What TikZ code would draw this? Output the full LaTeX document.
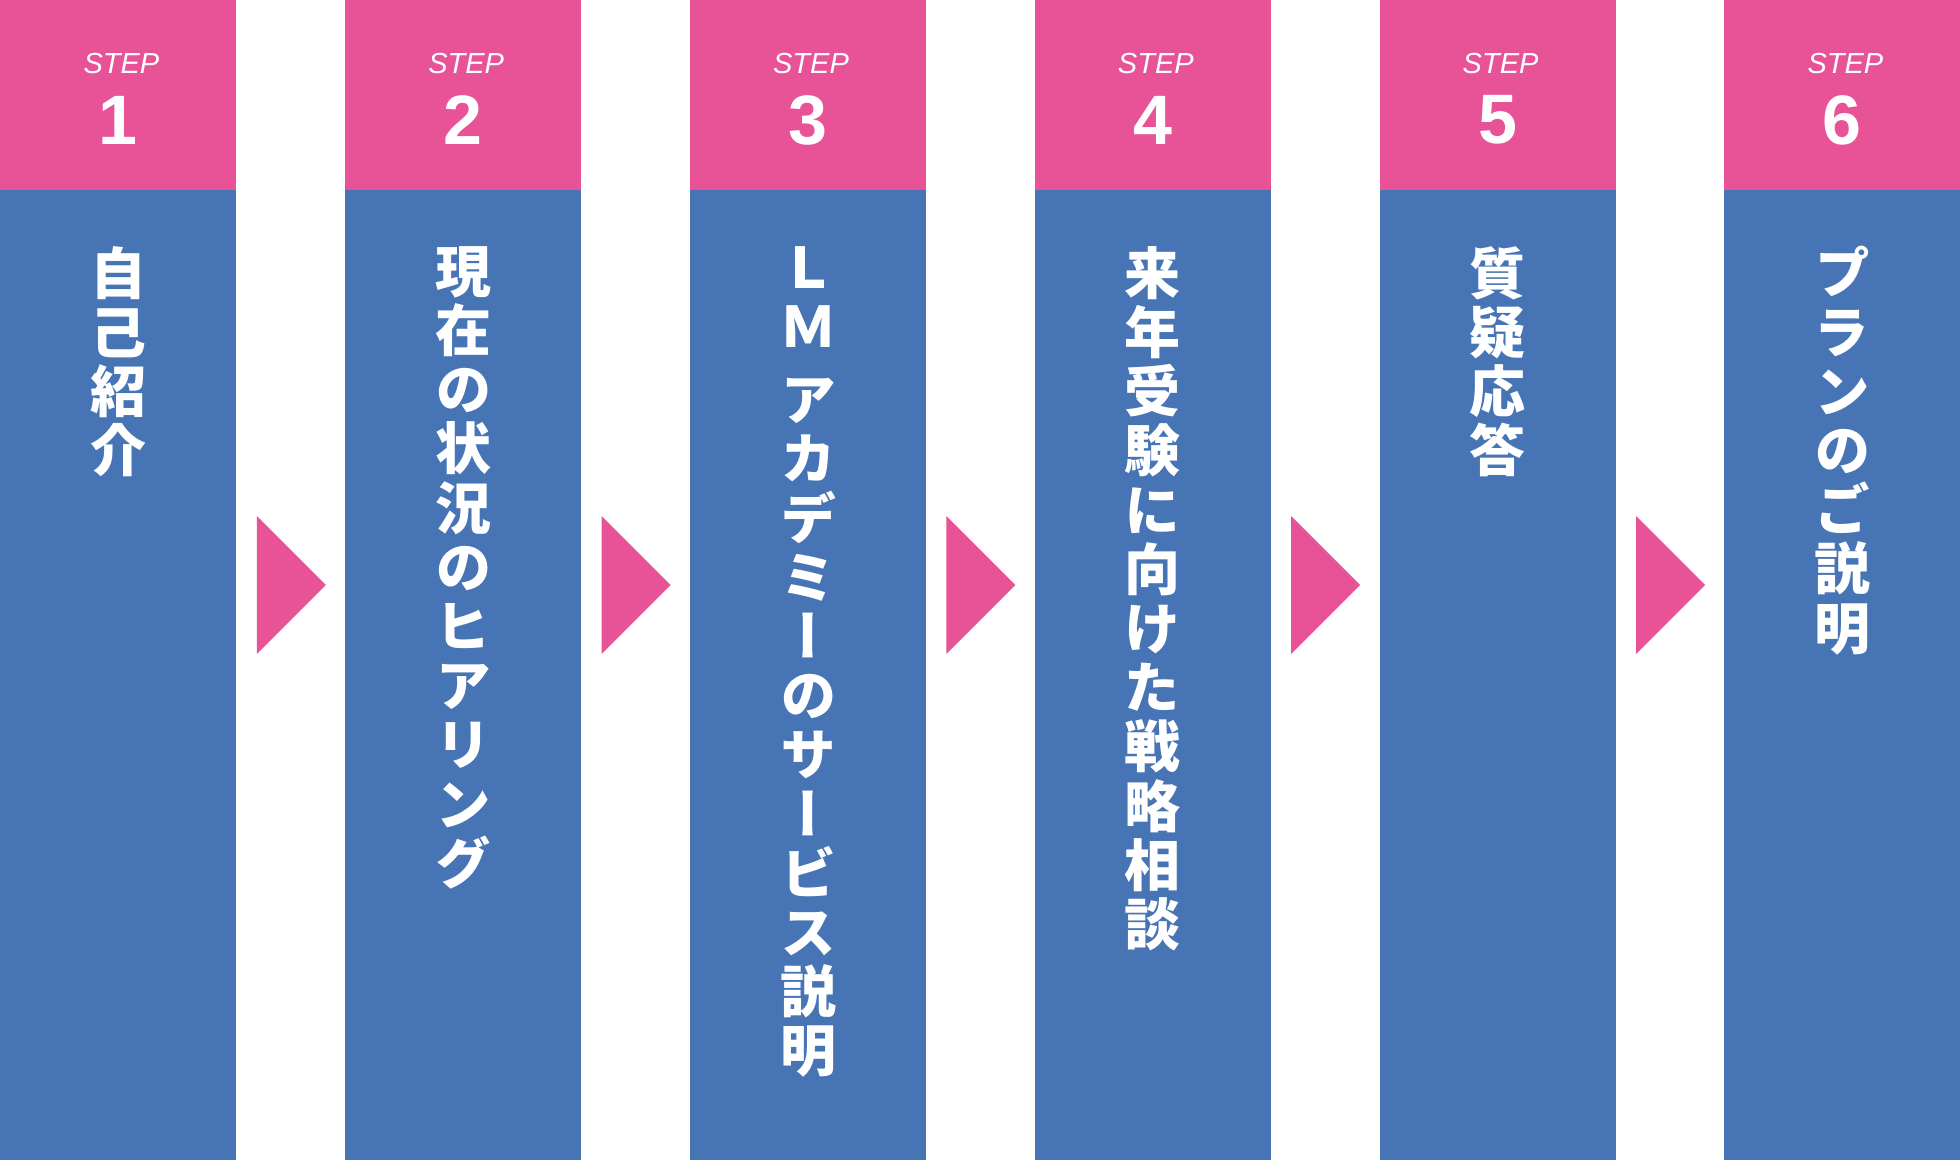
\documentclass[tikz,border=0pt]{standalone}
\usepackage{fontspec}
\setmainfont{Liberation Sans}
\newfontfamily\jpfont[RawFeature={+vert}]{Noto Sans CJK JP}
\usetikzlibrary{calc, positioning}

\definecolor{stepPink}{HTML}{E85397}
\definecolor{stepBlue}{HTML}{4674B5}

\begin{document}
\begin{tikzpicture}[x=0.5pt, y=-0.5pt,
  hdbox/.style={fill=stepPink, minimum width=118pt, minimum height=95pt, inner sep=0, anchor=north west},
  bdbox/.style={fill=stepBlue, minimum width=118pt, minimum height=485pt, inner sep=0, anchor=north west},
  steplabel/.style={text=white, inner sep=0, font=\itshape\fontsize{14.5}{17}\selectfont},
  stepnum/.style={text=white, inner sep=0, font=\bfseries\fontsize{35}{40}\selectfont},
  vtext/.style={text=white, inner sep=0, anchor=north, align=center, font=\jpfont\bfseries\fontsize{28}{29.6}\selectfont}
 ]
 \useasboundingbox (0,0) rectangle (1960,1160);
 
 \foreach \i/\txt in {1/{自\\己\\紹\\介},
   2/{現\\在\\の\\状\\況\\の\\ヒ\\ア\\リ\\ン\\グ},
   3/{Ｌ\\Ｍ\\[7pt]ア\\カ\\デ\\ミ\\ー\\の\\サ\\ー\\ビ\\ス\\説\\明},
   4/{来\\年\\受\\験\\に\\向\\け\\た\\戦\\略\\相\\談},
   5/{質\\疑\\応\\答},
   6/{プ\\ラ\\ン\\の\\ご\\説\\明}} {
  \pgfmathsetmacro\x{344.8*(\i-1)}
  \node [hdbox] (hd\i) at (\x,0) {};
  \node [bdbox] (bd\i) at (\x,190) {};
  \node [steplabel] (st\i) at ($(hd\i.north)+(3,63.5)$) {STEP};
  \node [stepnum] (nm\i) at ($(hd\i.north)+(0,120)$) {\i};
  \node [vtext] (tx\i) at ($(bd\i.north)+(0,56)$) {\txt};
 }
 
 % arrows between the steps
 \foreach \i in {1,...,5} {
  \fill [stepPink] ($(bd\i.north east)+(20,326)$) -- ($(bd\i.north east)+(89,395)$)
   -- ($(bd\i.north east)+(20,464)$) -- cycle;
 }
\end{tikzpicture}
\end{document}
